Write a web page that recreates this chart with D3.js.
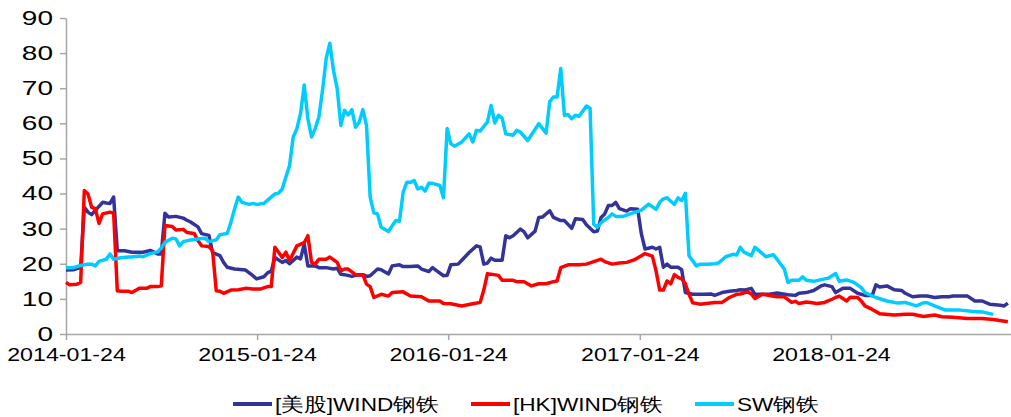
<!DOCTYPE html>
<html>
<head>
<meta charset="utf-8">
<script src="https://cdn.jsdelivr.net/npm/d3@7"></script>
<style>
  html, body { margin: 0; padding: 0; background: #fff; }
  svg { display: block; }
  text { font-family: "Liberation Sans", Arial, sans-serif; fill: #000; }
</style>
</head>
<body>
<svg id="chart" width="1011" height="417"></svg>
<script>
// ---------------- data ----------------
const startDate = "2014-01-24";
const endDate = "2019-01-03";
const xTickLabels = ["2014-01-24", "2015-01-24", "2016-01-24", "2017-01-24", "2018-01-24"];
const yTicks = [0, 10, 20, 30, 40, 50, 60, 70, 80, 90];
const seriesNames = ["[美股]WIND钢铁", "[HK]WIND钢铁", "SW钢铁"];

// week offsets from startDate, and values
const usWeeks = [0,2,4,5,6,7,8,10,11,12,13,14,16,18,21,23,25,26,27,28,30,32,33,34,36,37,39,40,42,43,44,46,49,51,52,54,55,56,57,59,60,61,63,64,65,66,68,69,71,73,74,75,76,78,79,81,82,83,85,86,88,89,91,92,94,96,97,99,100,101,103,104,105,107,108,110,112,113,114,115,116,117,119,120,121,122,124,125,126,128,129,130,132,133,135,136,138,139,141,142,144,145,146,147,148,149,150,151,153,154,156,157,158,160,161,162,163,164,165,167,168,169,171,174,176,177,179,181,183,184,185,187,188,190,192,194,197,199,200,202,204,206,207,209,210,212,214,216,218,220,221,222,224,226,228,229,231,233,235,237,239,241,242,244,246,248,250,252,255,256,257];
const usValues = [18.2,18.3,19,36.1,34.7,34,35.2,37.5,37.3,37.2,39,23.7,23.7,23.3,23.3,23.8,22.8,22.8,34.4,33.3,33.5,33,32.4,31.9,30.5,28.6,28.1,23.2,22.3,20.4,19,18.5,18.2,16.6,15.7,16.3,17.4,17.9,21.8,20.4,20.9,20,21.9,21.4,25.6,19.4,19.4,18.9,18.9,18.5,18.7,17,16.9,16.4,16.7,16.9,16.4,16.6,18.5,18.3,17.1,19.4,19.7,19.2,19.2,19.4,18.5,17.8,18.9,18.1,16.6,16.7,19.7,19.9,21,23.2,25.1,24.8,19.9,20.2,21.6,21,21,28,27.4,28,29.9,29.1,27.4,29.3,33.2,33.3,35.1,33.2,32.3,32.3,30.1,32.8,32.6,31.1,29.1,29.3,33.2,34.2,36.6,36.6,37.5,35.7,35,35.7,35.5,28.5,24.2,24.7,24.2,24.7,19,19.9,19,19,18.3,11.8,11.3,11.3,11.4,11,11.8,12.2,12.4,12.6,12.5,13,11.3,11.3,11.3,11.7,11.2,11,11.6,11.8,12.4,13.7,14,13.5,11.8,13,13,11.6,11,11,14,13.4,13.7,12.6,12.4,11.6,10.6,10.8,10.8,10.4,10.6,10.6,10.8,10.8,10.8,9.4,9.4,8.5,8.2,8,8.8];

const hkWeeks = [0,1,3,4,5,6,7,8,9,10,12,13,14,15,17,18,20,22,23,25,26,27,29,30,32,33,35,36,37,39,40,41,42,43,45,47,49,51,53,55,56,57,58,59,60,61,63,65,66,67,68,69,71,72,74,75,76,77,79,81,82,83,84,86,88,89,92,94,97,99,102,103,105,108,111,113,114,115,118,119,122,123,125,127,129,131,133,134,135,137,140,142,144,146,147,149,151,153,155,157,158,160,161,162,163,164,165,166,167,168,169,170,171,173,177,179,181,183,184,186,187,188,190,194,196,198,199,200,202,205,207,209,210,211,213,214,216,217,218,220,222,226,229,231,234,237,239,242,246,250,253,257];
const hkValues = [14.7,14,14.2,14.7,40.9,39.9,36.1,35.7,31.5,34.2,34.7,34.4,12.3,12.2,12.2,11.8,13,13,13.5,13.5,13.7,30.9,30.6,29.6,29.8,28.9,28.6,26.6,25.1,24.9,23.7,12.3,12.2,11.6,12.5,12.6,13,12.8,12.8,13.5,13.5,24.7,23.3,21.8,23.3,20.9,25.1,26,28,20.4,19.9,21.3,21.3,21.9,20.4,18,18.5,18.5,16.9,16.9,14.2,13.5,10.4,11.3,10.8,11.8,12,10.8,10.6,9.4,9.4,8.7,8.6,8,8.6,9,12.5,17.2,16.7,15.3,15.3,14.9,14.9,13.7,14.3,14.3,14.9,15.1,18.9,19.7,19.7,19.9,20.6,21.3,20.6,19.9,20.2,20.4,21.1,22.3,22.9,22.2,18,12.5,12.5,15.1,14.3,16.9,16.1,15.7,14.3,11.3,8.9,8.5,9,9,10.4,11.3,11.4,12,11.4,10.1,11.3,10.6,10.6,9,9.3,8.7,9.1,8.7,9,9.9,10.4,10.8,9.4,10.5,10.4,9.4,8,7,5.8,5.4,5.6,5.6,5,5.4,4.9,4.8,4.4,4.4,4.1,3.5,3.2];

const swWeeks = [0,2,4,6,7,8,9,11,12,13,15,17,18,20,21,23,25,26,27,29,30,31,32,34,37,38,39,41,42,44,45,46,47,48,50,51,52,54,56,57,58,59,60,61,62,63,64,65,66,67,68,69,70,71,72,73,74,75,76,77,78,79,80,81,82,83,84,85,86,88,89,90,91,92,93,94,95,96,97,98,99,100,102,103,104,105,106,108,110,111,112,113,115,116,117,118,119,120,122,123,124,126,129,131,132,133,134,135,136,137,138,139,140,142,143,144,145,146,148,149,150,152,154,157,159,161,162,163,164,166,167,168,169,170,172,173,175,177,178,180,182,183,184,185,187,188,189,191,193,194,196,197,198,200,201,202,204,207,208,210,211,213,215,217,218,221,224,227,229,232,234,235,237,240,244,247,250,253];
const swValues = [18.9,18.9,19.5,19.9,19.9,19.4,20.7,21.3,22.8,21.3,21.7,21.9,21.9,22.2,22,22.9,23.4,24.5,26.1,27.3,27.1,25.1,26.3,26.8,27.2,27.3,26.3,26.8,28.3,28.6,31.8,35.6,39,37.5,36.9,37.2,36.9,37.2,39,39.9,40.1,41.3,44.7,48,56.1,58.5,62.8,70.9,61.3,56.1,58.5,61.8,69.4,78.5,82.8,75,69.9,59.4,63.7,62.4,63.9,58.9,60.3,63.9,59.4,39,34.5,34.2,30.4,29.2,30.8,32.3,32.1,40.4,43.2,43.2,43.7,41.3,41.8,40.7,42.9,42.9,42.3,38.8,58.5,54.2,53.5,54.7,57,54.7,58,57.8,60.4,65.1,60.1,62.3,61.5,57,56.6,58,57.5,55.1,59.9,57.2,66.2,67.5,67.5,75.6,62.3,62.5,61.3,62.3,62,64.9,64.3,31.3,30.4,31.7,33.2,34.2,33.5,33.5,34.2,35.3,37,35.5,37.5,38.5,38.8,36.9,38.8,38,40.1,22.3,19.4,19.9,19.9,20,20.2,22,22.7,22.5,24.7,23.3,22.3,24.7,23.8,22,22.6,21.3,18.5,14.7,15.3,15.3,16.3,15.3,15,15.7,15.9,17.2,15,15.4,14.7,13.2,11.8,10.4,9.4,8.8,9,8,8.9,8.9,8,6.8,6.8,6.5,6.3,5.6];

const colors = ["#333399", "#FF0000", "#00CCFF"];

// ---------------- chart ----------------
const svg = d3.select("#chart");
const margin = { left: 66, right: 0, top: 18, bottom: 84 };
const W = 1011, H = 417;
const stretchX = 1.22;   // the reference text is drawn horizontally stretched
const stretchY = 1.4;
const stretchLegend = 1.19;
const parse = d3.utcParse("%Y-%m-%d");
const t0 = parse(startDate);

const x = d3.scaleUtc()
  .domain([t0, parse(endDate)])
  .range([margin.left, W - margin.right]);
const y = d3.scaleLinear()
  .domain([0, 90])
  .range([H - margin.bottom + 1, margin.top]);

const axisColor = "#A6A6A6";
const fontFam = '"Liberation Sans", Arial, sans-serif';

// x axis
const xAxis = d3.axisBottom(x)
  .tickValues(xTickLabels.map(parse))
  .tickFormat(d3.utcFormat("%Y-%m-%d"))
  .tickSizeInner(6).tickSizeOuter(0).tickPadding(8);
const gx = svg.append("g")
  .attr("transform", `translate(0,${y(0)})`)
  .call(xAxis);
gx.select(".domain").attr("stroke", axisColor).attr("stroke-width", 1.5);
gx.selectAll(".tick line").attr("stroke", axisColor).attr("stroke-width", 1.5);
gx.selectAll(".tick text").attr("font-size", 19).attr("fill", "#000")
  .style("font-family", fontFam)
  .attr("transform", `scale(${stretchX},1)`);

// y axis
const yAxis = d3.axisLeft(y)
  .tickValues(yTicks)
  .tickSizeInner(6).tickSizeOuter(0).tickPadding(8);
const gy = svg.append("g")
  .attr("transform", `translate(${margin.left},0)`)
  .call(yAxis);
gy.select(".domain").attr("stroke", axisColor).attr("stroke-width", 1.5);
gy.selectAll(".tick line").attr("stroke", axisColor).attr("stroke-width", 1.5);
gy.selectAll(".tick text").attr("font-size", 20).attr("fill", "#000")
  .style("font-family", fontFam)
  .attr("x", -13 / stretchY)
  .attr("transform", `scale(${stretchY},1)`);

// lines
const line = d3.line()
  .x(d => x(d3.utcDay.offset(t0, d[0] * 7)))
  .y(d => y(d[1]));

const series = [
  { name: seriesNames[0], pts: d3.zip(usWeeks, usValues), color: colors[0] },
  { name: seriesNames[1], pts: d3.zip(hkWeeks, hkValues), color: colors[1] },
  { name: seriesNames[2], pts: d3.zip(swWeeks, swValues), color: colors[2] }
];

svg.append("g").selectAll("path")
  .data(series)
  .join("path")
  .attr("d", d => line(d.pts))
  .attr("fill", "none")
  .attr("stroke", d => d.color)
  .attr("stroke-width", 3.5)
  .attr("stroke-linejoin", "round");

// legend
const legendY = 404;
const legendItems = [
  { x: 233, s: series[0] },
  { x: 471, s: series[1] },
  { x: 695, s: series[2] }
];
const lg = svg.append("g");
legendItems.forEach(it => {
  const g = lg.append("g").attr("transform", `translate(${it.x},${legendY})`);
  g.append("line").attr("x1", 0).attr("x2", 39).attr("y1", 0).attr("y2", 0)
    .attr("stroke", it.s.color).attr("stroke-width", 4);
  g.append("text").attr("x", 42 / stretchLegend).attr("y", 0).attr("dy", "0.35em")
    .attr("font-size", 19)
    .attr("transform", `scale(${stretchLegend},1)`)
    .text(it.s.name);
});
</script>
</body>
</html>
